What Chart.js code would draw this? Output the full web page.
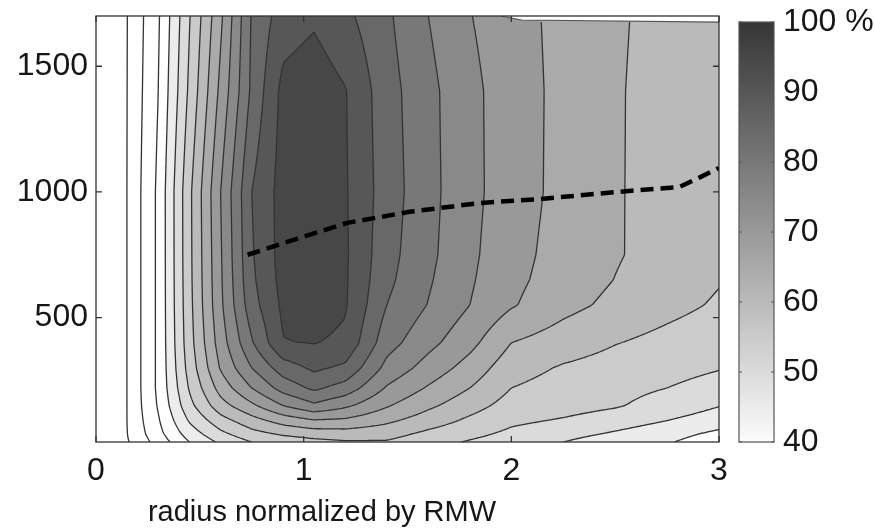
<!DOCTYPE html>
<html>
<head>
<meta charset="utf-8">
<script src="https://cdn.jsdelivr.net/npm/chart.js@4.4.1/dist/chart.umd.min.js"></script>
<style>
  html, body { margin: 0; padding: 0; background: #fff; }
  #wrap { width: 875px; height: 531px; position: relative; }
</style>
</head>
<body>
<div id="wrap"><canvas id="chart"></canvas></div>
<script>
(function() {
    'use strict';

    // grid of the field: radius (normalized by RMW) and height
    var radius = [0.1, 0.15, 0.3, 0.45, 0.6, 0.75, 0.9, 1.05, 1.2, 1.4, 1.6, 1.8, 2.0, 2.25, 2.5, 2.75, 3.0];
    var heights = [5, 40, 90, 150, 220, 300, 400, 550, 650, 750, 1000, 1400, 1700];

    // percent values, one row per height (bottom to top), one column per radius
    var pct = [
        [18, 24.5, 32.0, 40.0, 46.0, 50.0, 52.0, 53.5, 54.5, 54.5, 52.0, 49.5, 47.5, 45.0, 42.0, 40.5, 37.0],
        [18, 25.1, 33.5, 42.5, 49.0, 53.5, 56.0, 57.5, 58.0, 57.0, 54.0, 51.5, 49.0, 47.0, 44.5, 42.0, 39.0],
        [18, 25.3, 34.5, 45.5, 53.0, 58.0, 62.0, 64.5, 64.0, 61.0, 57.5, 54.0, 51.0, 49.5, 47.5, 45.0, 42.5],
        [18, 25.3, 35.5, 48.5, 58.0, 64.0, 70.0, 74.0, 71.0, 65.5, 61.0, 57.0, 53.0, 52.0, 50.5, 48.0, 45.2],
        [18, 25.3, 36.0, 50.5, 62.0, 70.0, 77.0, 81.0, 78.0, 69.5, 64.5, 60.0, 55.0, 53.0, 51.5, 50.0, 48.0],
        [18, 25.3, 36.0, 52.0, 65.5, 75.0, 82.5, 86.0, 84.0, 73.5, 68.0, 63.0, 57.0, 54.5, 53.0, 51.8, 50.3],
        [18, 25.3, 36.0, 53.0, 67.5, 79.5, 89.8, 90.2, 89.0, 77.0, 71.5, 66.5, 60.0, 57.5, 55.2, 53.5, 52.0],
        [18, 25.3, 36.0, 53.5, 69.0, 83.0, 91.0, 92.5, 90.5, 80.0, 74.8, 70.0, 65.5, 61.5, 58.8, 56.5, 54.4],
        [18, 25.3, 36.0, 53.7, 69.3, 84.0, 91.7, 93.2, 90.6, 81.2, 75.6, 70.6, 66.3, 62.6, 59.9, 57.5, 55.3],
        [18, 25.3, 36.0, 53.8, 69.5, 84.5, 92.0, 93.5, 90.7, 81.8, 76.2, 71.0, 66.8, 63.0, 60.4, 58.2, 56.0],
        [18, 25.3, 36.0, 53.9, 70.0, 85.0, 92.0, 93.5, 90.5, 82.5, 76.6, 71.4, 67.4, 63.5, 60.3, 58.7, 57.0],
        [18, 25.2, 35.0, 51.0, 66.3, 81.0, 91.5, 93.0, 90.3, 82.0, 76.4, 71.3, 67.4, 63.6, 60.3, 58.8, 57.5],
        [18, 25.1, 34.4, 49.7, 64.0, 80.5, 87.5, 89.2, 86.2, 80.9, 75.0, 70.2, 67.0, 63.5, 60.4, 59.0, 58.0]
    ];

    // upper edge of the data near the top right corner
    var edgeX = [0, 1.95, 2.05, 3.0];
    var edgeY = [1700, 1700, 1684, 1676];

    var levels = [25, 30, 35, 40, 45, 50, 55, 60, 65, 70, 75, 80, 85, 90, 95];

    // dashed line (height of the maximum)
    var lineX = [0.73, 0.97, 1.21, 1.51, 1.85, 2.14, 2.51, 2.81, 2.91, 3.0];
    var lineY = [750, 814, 877, 921, 956, 972, 1000, 1020, 1059, 1095];

    var xTicks = [0, 1, 2, 3];
    var yTicks = [500, 1000, 1500];
    var cbTicks = [40, 50, 60, 70, 80, 90, 100];

    var FONT = 'Liberation Sans, Arial, Helvetica, sans-serif';
    var TEXT = '#161616';
    var LINE = '#333333';

    function gray(v) {
        return Math.round(252 - (v - 40) * 3.3);
    }

    function bandGray(v) {
        if (isNaN(v) || v < 40) {
            return 255;
        }
        var upper = Math.min(Math.floor(v / 5) * 5 + 5, 100);
        return gray(upper);
    }

    function findCell(arr, v) {
        var i = 0;
        while (i < arr.length - 2 && v > arr[i + 1]) {
            i++;
        }
        return i;
    }

    function interp1(xa, ya, x) {
        var i = findCell(xa, x);
        var t = (x - xa[i]) / (xa[i + 1] - xa[i]);
        return ya[i] + t * (ya[i + 1] - ya[i]);
    }

    function valueAt(x, y) {
        if (x < radius[0] || x > radius[radius.length - 1]) {
            return NaN;
        }
        if (y > interp1(edgeX, edgeY, x)) {
            return NaN;
        }
        y = Math.max(heights[0], Math.min(heights[heights.length - 1], y));
        var i = findCell(radius, x);
        var j = findCell(heights, y);
        var t = (x - radius[i]) / (radius[i + 1] - radius[i]);
        var u = (y - heights[j]) / (heights[j + 1] - heights[j]);
        var lo = (1 - t) * pct[j][i] + t * pct[j][i + 1];
        var hi = (1 - t) * pct[j + 1][i] + t * pct[j + 1][i + 1];
        return (1 - u) * lo + u * hi;
    }

    // filled bands + contour lines, positioned through the chart scales
    var contourPlugin = {
        id: 'contourField',
        beforeDatasetsDraw: function(chart) {
            var ctx = chart.ctx;
            var area = chart.chartArea;
            var sx = chart.scales.x;
            var sy = chart.scales.y;
            var left = Math.round(area.left);
            var top = Math.round(area.top);
            var w = Math.round(area.right) - left;
            var h = Math.round(area.bottom) - top;

            var colVal = [];
            var rowVal = [];
            var i, j;
            for (i = 0; i < w; i++) {
                colVal.push(sx.getValueForPixel(left + i + 0.5));
            }
            for (j = 0; j < h; j++) {
                rowVal.push(sy.getValueForPixel(top + j + 0.5));
            }

            var img = ctx.createImageData(w, h);
            var d = img.data;
            for (j = 0; j < h; j++) {
                for (i = 0; i < w; i++) {
                    var g = bandGray(valueAt(colVal[i], rowVal[j]));
                    var k = (j * w + i) * 4;
                    d[k] = g;
                    d[k + 1] = g;
                    d[k + 2] = g;
                    d[k + 3] = 255;
                }
            }
            ctx.putImageData(img, left, top);

            // marching squares on a 2 px grid
            var step = 2;
            var nx = Math.ceil(w / step) + 1;
            var ny = Math.ceil(h / step) + 1;
            var px = [], py = [], G = [];
            for (i = 0; i < nx; i++) {
                px.push(Math.min(left + i * step, left + w));
            }
            for (j = 0; j < ny; j++) {
                py.push(Math.min(top + j * step, top + h));
            }
            for (j = 0; j < ny; j++) {
                var row = [];
                var yv = sy.getValueForPixel(py[j]);
                for (i = 0; i < nx; i++) {
                    row.push(valueAt(sx.getValueForPixel(px[i]), yv));
                }
                G.push(row);
            }

            ctx.save();
            ctx.beginPath();
            ctx.rect(area.left, area.top, area.right - area.left, area.bottom - area.top);
            ctx.clip();
            ctx.strokeStyle = LINE;
            ctx.lineWidth = 1.3;
            ctx.lineJoin = 'round';

            levels.forEach(function(L) {
                ctx.beginPath();
                for (var jj = 0; jj < ny - 1; jj++) {
                    for (var ii = 0; ii < nx - 1; ii++) {
                        var a = G[jj][ii], b = G[jj][ii + 1], c = G[jj + 1][ii + 1], e = G[jj + 1][ii];
                        if (isNaN(a) || isNaN(b) || isNaN(c) || isNaN(e)) {
                            continue;
                        }
                        var idx = (a > L ? 8 : 0) | (b > L ? 4 : 0) | (c > L ? 2 : 0) | (e > L ? 1 : 0);
                        if (idx === 0 || idx === 15) {
                            continue;
                        }
                        var x0 = px[ii], x1 = px[ii + 1], y0 = py[jj], y1 = py[jj + 1];
                        var T = [x0 + (x1 - x0) * (L - a) / (b - a), y0];
                        var R = [x1, y0 + (y1 - y0) * (L - b) / (c - b)];
                        var B = [x0 + (x1 - x0) * (L - e) / (c - e), y1];
                        var Lf = [x0, y0 + (y1 - y0) * (L - a) / (e - a)];
                        var segs;
                        switch (idx) {
                            case 1: case 14: segs = [[Lf, B]]; break;
                            case 2: case 13: segs = [[B, R]]; break;
                            case 3: case 12: segs = [[Lf, R]]; break;
                            case 4: case 11: segs = [[T, R]]; break;
                            case 6: case 9: segs = [[T, B]]; break;
                            case 7: case 8: segs = [[Lf, T]]; break;
                            case 5: segs = [[Lf, T], [B, R]]; break;
                            case 10: segs = [[Lf, B], [T, R]]; break;
                        }
                        segs.forEach(function(s) {
                            ctx.moveTo(s[0][0], s[0][1]);
                            ctx.lineTo(s[1][0], s[1][1]);
                        });
                    }
                }
                ctx.stroke();
            });

            // outline of the data's upper edge
            ctx.beginPath();
            for (var n = 1; n < edgeX.length; n++) {
                var p = sx.getPixelForValue(edgeX[n]);
                var q = sy.getPixelForValue(edgeY[n]);
                if (n === 1) {
                    ctx.moveTo(p, q);
                } else {
                    ctx.lineTo(p, q);
                }
            }
            ctx.strokeStyle = '#555';
            ctx.lineWidth = 1.2;
            ctx.stroke();
            ctx.restore();
        },

        afterDatasetsDraw: function(chart) {
            var ctx = chart.ctx;
            var area = chart.chartArea;
            var sx = chart.scales.x;
            var sy = chart.scales.y;
            var tl = 6;

            ctx.save();
            ctx.strokeStyle = LINE;
            ctx.lineWidth = 1.3;
            ctx.strokeRect(area.left, area.top, area.right - area.left, area.bottom - area.top);

            // inward ticks on all four sides
            ctx.beginPath();
            xTicks.forEach(function(v) {
                var p = sx.getPixelForValue(v);
                ctx.moveTo(p, area.bottom);
                ctx.lineTo(p, area.bottom - tl);
                ctx.moveTo(p, area.top);
                ctx.lineTo(p, area.top + tl);
            });
            yTicks.forEach(function(v) {
                var p = sy.getPixelForValue(v);
                ctx.moveTo(area.left, p);
                ctx.lineTo(area.left + tl, p);
                ctx.moveTo(area.right, p);
                ctx.lineTo(area.right - tl, p);
            });
            ctx.stroke();
            ctx.restore();
        },

        afterDraw: function(chart) {
            var ctx = chart.ctx;
            var area = chart.chartArea;
            var cb = chart.scales.cb;
            var x0 = area.right + 20;
            var x1 = area.right + 55;
            var yBot = cb.getPixelForValue(cbTicks[0]);
            var yTop = cb.getPixelForValue(cbTicks[cbTicks.length - 1]);

            ctx.save();
            var grad = ctx.createLinearGradient(0, yBot, 0, yTop);
            var g0 = gray(cbTicks[0]);
            var g1 = gray(cbTicks[cbTicks.length - 1]);
            grad.addColorStop(0, 'rgb(' + g0 + ',' + g0 + ',' + g0 + ')');
            grad.addColorStop(1, 'rgb(' + g1 + ',' + g1 + ',' + g1 + ')');
            ctx.fillStyle = grad;
            ctx.fillRect(x0, yTop, x1 - x0, yBot - yTop);

            ctx.strokeStyle = '#555';
            ctx.lineWidth = 1.2;
            ctx.strokeRect(x0, yTop, x1 - x0, yBot - yTop);

            ctx.beginPath();
            cbTicks.forEach(function(v) {
                var p = cb.getPixelForValue(v);
                ctx.moveTo(x0, p);
                ctx.lineTo(x0 + 3, p);
                ctx.moveTo(x1, p);
                ctx.lineTo(x1 - 3, p);
            });
            ctx.stroke();

            // x axis title, placed as in the original figure (left of centre)
            ctx.fillStyle = TEXT;
            ctx.font = '29px ' + FONT;
            ctx.textAlign = 'center';
            ctx.textBaseline = 'alphabetic';
            ctx.fillText('radius normalized by RMW', 322, 521);
            ctx.restore();
        }
    };

    function fixedTicks(values) {
        return function(scale) {
            scale.ticks = values.map(function(v) { return { value: v }; });
        };
    }

    var ctx = document.getElementById('chart');
    new Chart(ctx, {
        type: 'line',
        data: {
            datasets: [{
                data: lineX.map(function(x, i) { return { x: x, y: lineY[i] }; }),
                borderColor: '#000',
                borderWidth: 4.5,
                borderDash: [13, 7],
                pointRadius: 0,
                fill: false,
                tension: 0,
            }],
        },
        options: {
            responsive: true,
            maintainAspectRatio: false,
            animation: false,
            events: [],
            layout: {
                padding: { top: 16, left: 0, right: 0, bottom: 0 },
            },
            plugins: {
                legend: { display: false },
                tooltip: { enabled: false },
            },
            scales: {
                x: {
                    type: 'linear',
                    min: 0,
                    max: 3,
                    afterBuildTicks: fixedTicks(xTicks),
                    grid: { display: false, drawTicks: false },
                    border: { display: false },
                    ticks: {
                        font: { family: FONT, size: 32 },
                        color: TEXT,
                        padding: 10,
                        maxRotation: 0,
                        callback: function(v) { return String(v); },
                    },
                    afterFit: function(s) {
                        s.height = 89;
                        s.paddingLeft = 0;
                        s.paddingRight = 0;
                    },
                },
                y: {
                    type: 'linear',
                    min: 5,
                    max: 1700,
                    afterBuildTicks: fixedTicks(yTicks),
                    grid: { display: false, drawTicks: false },
                    border: { display: false },
                    ticks: {
                        font: { family: FONT, size: 32 },
                        color: TEXT,
                        padding: 8,
                        callback: function(v) { return String(v); },
                    },
                    afterFit: function(s) {
                        s.width = 96;
                        s.paddingTop = 0;
                        s.paddingBottom = 0;
                    },
                },
                cb: {
                    type: 'linear',
                    position: 'right',
                    min: 40,
                    max: 100.86,
                    afterBuildTicks: fixedTicks(cbTicks),
                    grid: { display: false, drawTicks: false },
                    border: { display: false },
                    ticks: {
                        font: { family: FONT, size: 32 },
                        color: TEXT,
                        padding: 64,
                        callback: function(v) {
                            return v === 100 ? '100 %' : String(v);
                        },
                    },
                    afterFit: function(s) {
                        s.width = 156;
                        s.paddingTop = 0;
                        s.paddingBottom = 0;
                    },
                },
            },
        },
        plugins: [contourPlugin],
    });
})();
</script>
</body>
</html>
